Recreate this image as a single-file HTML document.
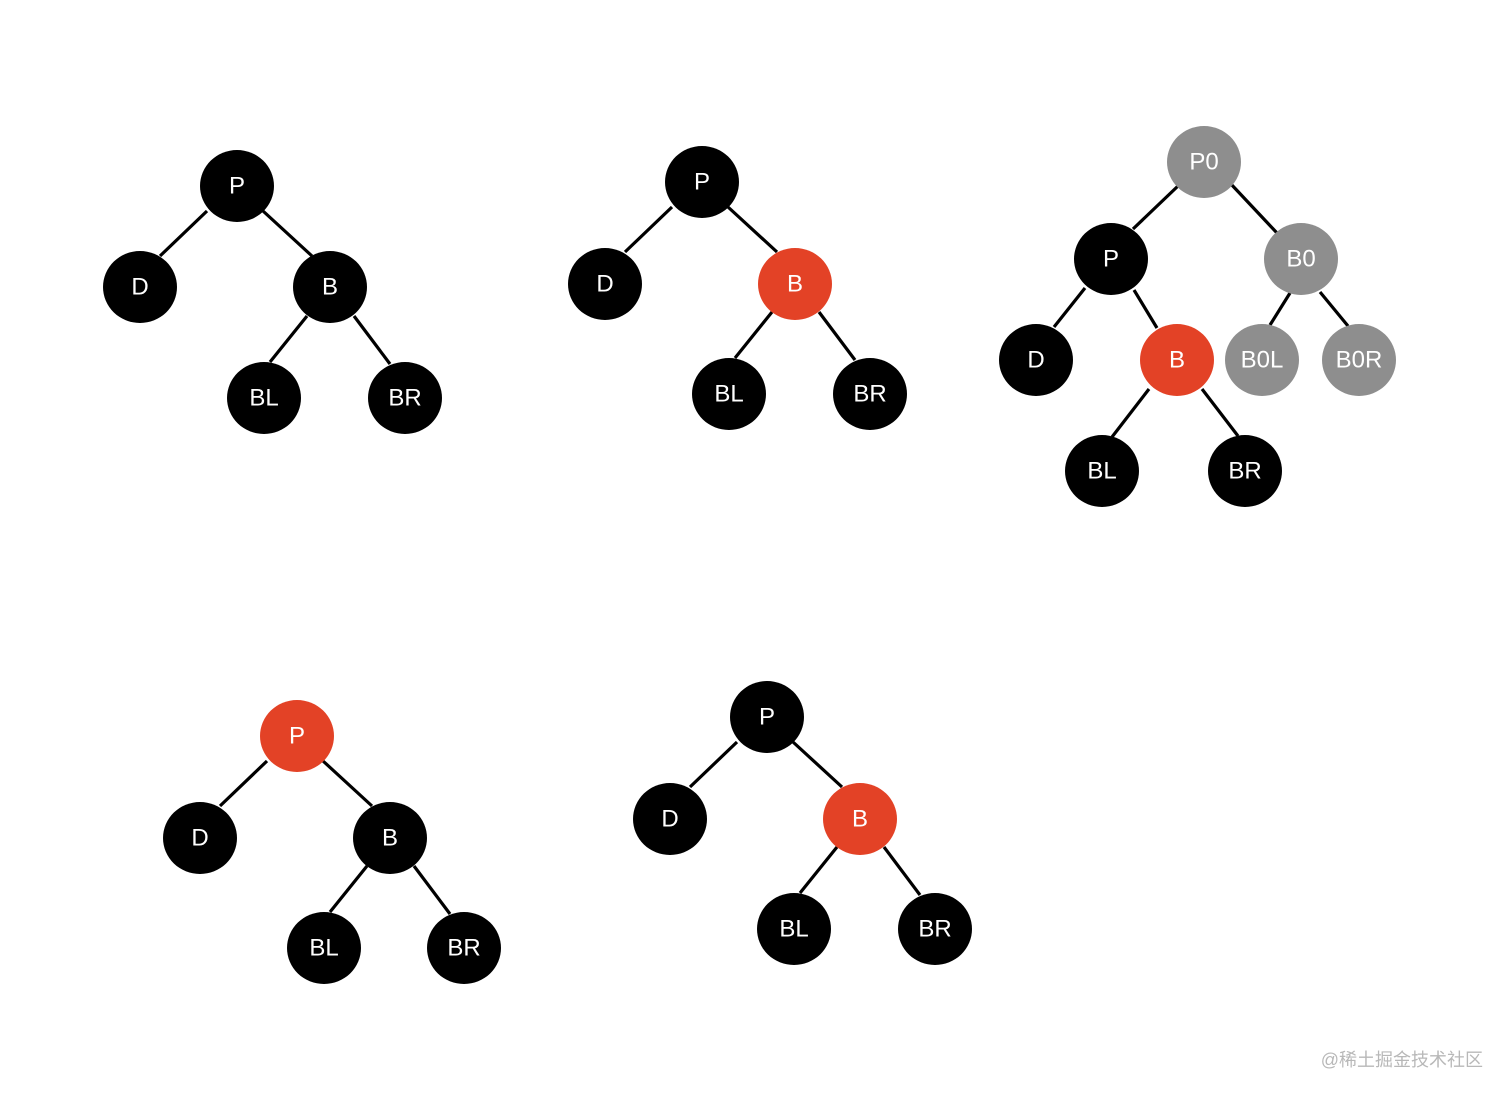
<!DOCTYPE html>
<html><head><meta charset="utf-8"><style>
html,body{margin:0;padding:0;background:#fff;}
svg{display:block;}
text{font-family:"Liberation Sans",Arial,sans-serif;font-size:24px;fill:#fff;text-anchor:middle;dominant-baseline:central;}
</style></head><body>
<svg width="1512" height="1099" viewBox="0 0 1512 1099" xmlns="http://www.w3.org/2000/svg">
<defs>
<g id="edges" stroke="#000" stroke-width="3.2">
<line x1="207" y1="211" x2="160" y2="256"/><line x1="263" y1="211" x2="312" y2="256"/>
<line x1="307" y1="316" x2="270" y2="362"/><line x1="354" y1="316" x2="390" y2="364"/>
</g>
</defs>
<use href="#edges"/>
<use href="#edges" transform="translate(465,-4)"/>
<use href="#edges" transform="translate(60,550)"/>
<use href="#edges" transform="translate(530,531)"/>
<g stroke="#000" stroke-width="3.2">
<line x1="1178" y1="186" x2="1133" y2="229"/><line x1="1230" y1="183" x2="1277" y2="233"/>
<line x1="1085" y1="288" x2="1054" y2="327"/><line x1="1134" y1="290" x2="1157" y2="328"/>
<line x1="1290" y1="293" x2="1270" y2="325"/><line x1="1320" y1="292" x2="1348" y2="326"/>
<line x1="1149" y1="389" x2="1112" y2="437"/><line x1="1202" y1="389" x2="1238" y2="436"/>
</g>
<g>
<ellipse cx="237" cy="186" rx="37" ry="36"/><text x="237" y="186">P</text>
<ellipse cx="140" cy="287" rx="37" ry="36"/><text x="140" y="287">D</text>
<ellipse cx="330" cy="287" rx="37" ry="36"/><text x="330" y="287">B</text>
<ellipse cx="264" cy="398" rx="37" ry="36"/><text x="264" y="398">BL</text>
<ellipse cx="405" cy="398" rx="37" ry="36"/><text x="405" y="398">BR</text>

<ellipse cx="702" cy="182" rx="37" ry="36"/><text x="702" y="182">P</text>
<ellipse cx="605" cy="284" rx="37" ry="36"/><text x="605" y="284">D</text>
<ellipse cx="795" cy="284" rx="37" ry="36" fill="#e34226"/><text x="795" y="284">B</text>
<ellipse cx="729" cy="394" rx="37" ry="36"/><text x="729" y="394">BL</text>
<ellipse cx="870" cy="394" rx="37" ry="36"/><text x="870" y="394">BR</text>

<ellipse cx="1204" cy="162" rx="37" ry="36" fill="#8e8e8e"/><text x="1204" y="162">P0</text>
<ellipse cx="1111" cy="259" rx="37" ry="36"/><text x="1111" y="259">P</text>
<ellipse cx="1301" cy="259" rx="37" ry="36" fill="#8e8e8e"/><text x="1301" y="259">B0</text>
<ellipse cx="1036" cy="360" rx="37" ry="36"/><text x="1036" y="360">D</text>
<ellipse cx="1177" cy="360" rx="37" ry="36" fill="#e34226"/><text x="1177" y="360">B</text>
<ellipse cx="1262" cy="360" rx="37" ry="36" fill="#8e8e8e"/><text x="1262" y="360">B0L</text>
<ellipse cx="1359" cy="360" rx="37" ry="36" fill="#8e8e8e"/><text x="1359" y="360">B0R</text>
<ellipse cx="1102" cy="471" rx="37" ry="36"/><text x="1102" y="471">BL</text>
<ellipse cx="1245" cy="471" rx="37" ry="36"/><text x="1245" y="471">BR</text>

<ellipse cx="297" cy="736" rx="37" ry="36" fill="#e34226"/><text x="297" y="736">P</text>
<ellipse cx="200" cy="838" rx="37" ry="36"/><text x="200" y="838">D</text>
<ellipse cx="390" cy="838" rx="37" ry="36"/><text x="390" y="838">B</text>
<ellipse cx="324" cy="948" rx="37" ry="36"/><text x="324" y="948">BL</text>
<ellipse cx="464" cy="948" rx="37" ry="36"/><text x="464" y="948">BR</text>

<ellipse cx="767" cy="717" rx="37" ry="36"/><text x="767" y="717">P</text>
<ellipse cx="670" cy="819" rx="37" ry="36"/><text x="670" y="819">D</text>
<ellipse cx="860" cy="819" rx="37" ry="36" fill="#e34226"/><text x="860" y="819">B</text>
<ellipse cx="794" cy="929" rx="37" ry="36"/><text x="794" y="929">BL</text>
<ellipse cx="935" cy="929" rx="37" ry="36"/><text x="935" y="929">BR</text>
</g>
<text x="1483" y="1060" style="font-family:'Liberation Sans','Noto Sans CJK SC',sans-serif;font-size:18px;fill:#b8b8b8;text-anchor:end;">@稀土掘金技术社区</text>
</svg>
</body></html>
